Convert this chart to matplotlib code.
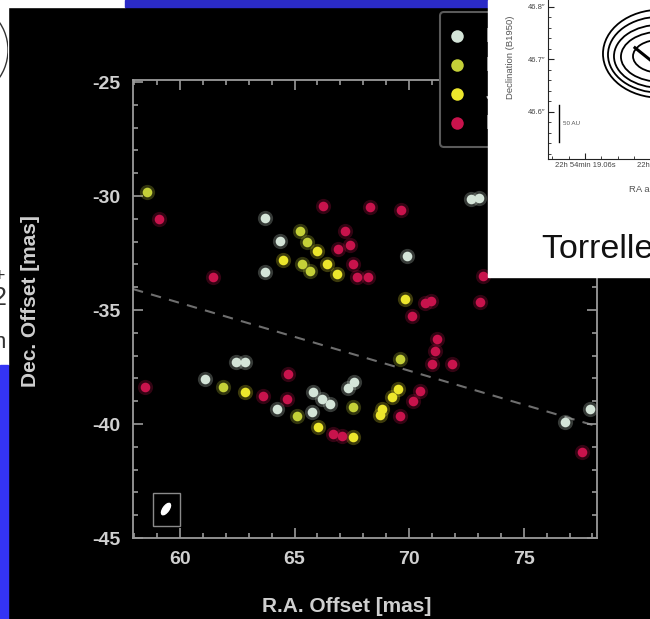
import matplotlib
matplotlib.use("Agg")
import matplotlib.pyplot as plt
from matplotlib.patches import Rectangle, Ellipse, Arc
from matplotlib.transforms import Affine2D
from matplotlib.ticker import MultipleLocator

plt.rcParams['font.family'] = ['Liberation Sans', 'DejaVu Sans']
plt.rcParams['axes.unicode_minus'] = False

W, H = 650, 619

# maser spots per epoch: R.A. / Dec. offsets in mas
epochs = ['Nov', 'Dec', 'Jan', 'Feb']
colors = ['#d4e4d8', '#c4d038', '#ece62c', '#c8134c']

nov_ra = [63.71, 64.37, 63.71, 69.92, 72.70, 73.05, 61.09, 62.45, 62.85, 64.24,
          65.77, 65.81, 66.20, 66.55, 67.35, 67.60, 77.91, 76.81]
nov_dec = [-30.96, -31.97, -33.33, -32.63, -30.15, -30.08, -38.03, -37.28, -37.28, -39.34,
           -39.47, -38.60, -38.90, -39.12, -38.40, -38.15, -39.34, -39.91]

dec_ra = [58.56, 65.24, 65.55, 65.33, 65.68, 69.61, 61.88, 65.11, 67.56]
dec_dec = [-29.82, -31.54, -32.02, -32.98, -33.29, -37.15, -38.38, -39.65, -39.25]

jan_ra = [64.50, 65.98, 66.42, 66.86, 69.83, 69.52, 69.26, 68.82, 68.74, 67.56, 62.84, 66.03]
jan_dec = [-32.81, -32.41, -32.98, -33.42, -34.52, -38.46, -38.82, -39.34, -39.60, -40.57, -38.60, -40.13]

feb_ra = [59.09, 61.44, 66.25, 68.30, 69.65, 67.21, 66.90, 67.43, 67.56, 67.73,
          68.21, 73.23, 70.13, 70.70, 70.95, 73.10, 71.22, 71.14, 71.01, 71.88,
          70.48, 70.18, 69.61, 77.56, 58.47, 63.63, 64.72, 64.67, 66.68, 67.08]
feb_dec = [-31.01, -33.55, -30.44, -30.48, -30.61, -31.54, -32.32, -32.15, -32.98, -33.55,
           -33.55, -33.51, -35.26, -34.70, -34.60, -34.65, -36.27, -36.80, -37.37, -37.37,
           -38.55, -38.99, -39.65, -41.23, -38.38, -38.77, -37.81, -38.90, -40.44, -40.53]

# fitted arc direction (dashed)
fit_ra = [57.95, 78.2]
fit_dec = [-34.08, -40.1]

# restoring beam
beam_ra, beam_dec = 59.39, -43.73
beam_major, beam_minor, beam_pa = 0.58, 0.26, -35

x_ticks = [60, 65, 70, 75]
y_ticks = [-45, -40, -35, -30, -25]

# continuum map inset: contour ellipses (centre RA s, centre Dec ", width s, height ")
cont_ra = [19.05085, 19.05085, 19.05085, 19.05085, 19.05085]
cont_dec = [46.7105, 46.7086, 46.7057, 46.7048, 46.7057]
cont_w = [0.0139, 0.01268, 0.01122, 0.00952, 0.00658]
cont_h = [0.1676, 0.1448, 0.1200, 0.0952, 0.0628]
core_ra = [19.0539, 19.05207]
core_dec = [46.7219, 46.6990]
bar_ra = 19.06317
bar_dec = [46.6133, 46.5429]

fig = plt.figure(figsize=(W / 100, H / 100), dpi=100, facecolor='black')
px = Affine2D().scale(1 / W, -1 / H).translate(0, 1) + fig.transFigure

# slide pieces around the black panel
white_strip = Rectangle((0, 0), 8, 365, transform=px, color='white', zorder=1)
fig.add_artist(white_strip)
fig.add_artist(Rectangle((0, 0), 125, 7, transform=px, color='white', zorder=1))
fig.add_artist(Rectangle((125, 0), 363, 7, transform=px, color='#2b2bc6', zorder=1))
fig.add_artist(Rectangle((0, 365), 8, H - 365, transform=px, color='#3434f5', zorder=1))
arc = Arc((-41, 50), 98, 98, transform=px, color='#333333', lw=1, zorder=1.5)
fig.add_artist(arc)
arc.set_clip_path(white_strip)
for ch, y, fs in [('+', 276, 14), ('2', 298, 18), ('n', 342, 16)]:
    fig.text(0, 1 - y / H, ch, fontsize=fs, color='#333333', ha='center', va='center')

ax = fig.add_axes([133 / W, 1 - 538 / H, 464 / W, 458 / H], facecolor='black')

for ra, dec, c, lab in zip([nov_ra, dec_ra, jan_ra, feb_ra],
                           [nov_dec, dec_dec, jan_dec, feb_dec], colors, epochs):
    ax.scatter(ra, dec, s=120, color=c, alpha=0.25, lw=0, zorder=2)
    ax.scatter(ra, dec, s=48, color=c, lw=0, label=lab, zorder=3)

ax.plot(fit_ra, fit_dec, ls=(0, (5, 4)), color='#6e6e6e', lw=1.5, zorder=1)

ax.add_patch(Rectangle((58.82, -44.47), 1.18, 1.44, fill=False, ec='#8a8a8a', lw=1))
ax.add_patch(Ellipse((beam_ra, beam_dec), beam_minor, beam_major, angle=beam_pa, color='white'))

ax.set_xlim(57.95, 78.2)
ax.set_ylim(-45, -24.91)
ax.set_xticks(x_ticks, [str(v) for v in x_ticks], fontweight='bold')
ax.set_yticks(y_ticks, [str(v) for v in y_ticks], fontweight='bold')
ax.xaxis.set_minor_locator(MultipleLocator(1))
ax.yaxis.set_minor_locator(MultipleLocator(1))
ax.tick_params(which='both', direction='in', colors='#9a9a9a', labelcolor='#d0d0d0',
               top=True, right=True, width=1.2, labelsize=14)
ax.tick_params(which='major', length=7, pad=9)
ax.tick_params(which='minor', length=3.5)
for s in ax.spines.values():
    s.set_color('#9a9a9a')
    s.set_linewidth(1.3)

ax.set_xlabel('R.A. Offset [mas]', fontsize=15, fontweight='bold', color='#cfcfcf')
ax.set_ylabel('Dec. Offset [mas]', fontsize=15, fontweight='bold', color='#cfcfcf')
ax.xaxis.set_label_coords(0.461, -0.128)
ax.yaxis.set_label_coords(-0.200, 0.517)

leg = ax.legend(loc='upper left', bbox_to_anchor=(440 / W, 1 - 12 / H),
                bbox_transform=fig.transFigure, facecolor='black', edgecolor='#5a5a5a',
                framealpha=1, prop={'size': 15, 'weight': 'bold'}, labelcolor='#cccccc',
                borderpad=0.7, labelspacing=0.48, handlelength=0.2, handletextpad=1.28,
                borderaxespad=0, markerscale=1.3)
leg.get_frame().set_linewidth(1.5)

# white panel with the continuum map
fig.add_artist(Rectangle((488, 0), W - 488, 277, transform=px, color='white', zorder=2))
ins = fig.add_axes([548 / W, 1 - 159 / H, 256 / W, 173.25 / H], zorder=3, facecolor='white')
ins.set_xlim(19.0645, 19.0333)
ins.set_ylim(46.51, 46.84)
for r, d, w, h in zip(cont_ra, cont_dec, cont_w, cont_h):
    ins.add_patch(Ellipse((r, d), w, h, fill=False, ec='black', lw=1.3))
ins.plot(core_ra, core_dec, color='black', lw=2.2)
ins.plot([bar_ra, bar_ra], bar_dec, color='black', lw=1)
ins.text(19.06268, 46.5771, '50 AU', fontsize=4.5, color='#555555', va='center')

ins.set_yticks([46.6, 46.7, 46.8], ['46.6\u2033', '46.7\u2033', '46.8\u2033'])
ins.set_xticks([19.06, 19.05], ['22h 54min 19.06s', '22h 54min 19.05s'])
ins.yaxis.set_minor_locator(MultipleLocator(0.02))
ins.xaxis.set_minor_locator(MultipleLocator(0.002))
ins.tick_params(which='both', direction='in', colors='#222222', labelcolor='#444444',
                labelsize=5.5, pad=2)
ins.tick_params(which='major', length=4)
ins.tick_params(which='minor', length=2)
for s in ins.spines.values():
    s.set_color('#222222')
ins.set_ylabel('Declination (B1950)', fontsize=6.8, color='#555555')
ins.yaxis.set_label_coords(-0.13, 0.59)
ins.set_xlabel('RA ascension (B1950)', fontsize=6.8, color='#555555', labelpad=12)

fig.text(542 / W, 1 - 258 / H, 'Torrelles et al.', fontsize=24.5, color='#111111',
         va='baseline', zorder=4)

fig.savefig('out.png', dpi=100, facecolor='black')
